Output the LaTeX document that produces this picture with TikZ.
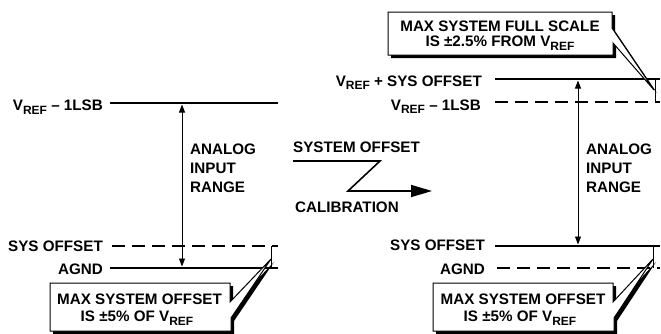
\documentclass[tikz,border=0pt]{standalone}
\usepackage{fontspec}
\setmainfont{Liberation Sans}
\usetikzlibrary{arrows.meta}
\newcommand{\vrefsub}{V\raisebox{-3.5pt}{\fontsize{12}{12}\selectfont REF}}
\begin{document}
\begin{tikzpicture}[x=1pt,y=-1pt,
  lbl/.style={inner sep=0pt, font=\fontsize{15.2}{18}\selectfont\bfseries},
  level/.style={line width=2.4pt},
  dlevel/.style={line width=2.4pt, dash pattern=on 13pt off 7pt},
  tickline/.style={line width=0.9pt},
  span/.style={line width=0.9pt, {Triangle[length=8pt,width=6pt]}-{Triangle[length=8pt,width=6pt]}},
  zline/.style={line width=1.6pt, line join=miter, -{Triangle[length=21pt,width=12pt]}},
  callout/.style={fill=white, draw=black, line width=1pt, line join=miter},
  calloutshadow/.style={fill=black}]
\useasboundingbox (0,0) rectangle (661,333);

% ---------- left panel ----------
\coordinate (LrefA) at (110,103);  \coordinate (LrefB) at (278,103);
\coordinate (LsysA) at (112,246);  \coordinate (LsysB) at (278,246);
\coordinate (LgndA) at (110,268);  \coordinate (LgndB) at (278,268);
\draw[level] (LrefA) -- (LrefB);
\draw[dlevel] (LsysA) -- (LsysB);
\draw[level] (LgndA) -- (LgndB);
\coordinate (LtickT) at (271,246); \coordinate (LtickB) at (271,268);
\draw[tickline] (LtickT) -- (LtickB);
\coordinate (LspanT) at (182,104.5); \coordinate (LspanB) at (182,266.5);
\draw[span] (LspanT) -- (LspanB);

\node[lbl, anchor=base east] (lref) at (103,110.5) {\vrefsub{} – 1LSB};
\node[lbl, anchor=base east] (lsys) at (103,251) {SYS OFFSET};
\node[lbl, anchor=base east] (lgnd) at (103,274) {AGND};
\node[lbl, anchor=base west] (la1) at (190,154) {ANALOG};
\node[lbl, anchor=base west] (la2) at (190,173.3) {INPUT};
\node[lbl, anchor=base west] (la3) at (190,192.5) {RANGE};

% left callout
\fill[calloutshadow, shift={(3,3)}] (50,283) -- (230,283) -- (230,302) -- (271,259) -- (231,318) -- (231,331) -- (50,331) -- cycle;
\draw[callout] (50,283) -- (230,283) -- (230,302) -- (271,259) -- (231,318) -- (231,331) -- (50,331) -- cycle;
\node[lbl, anchor=base] (lc1) at (139.5,304) {MAX SYSTEM OFFSET};
\node[lbl, anchor=base] (lc2) at (137,321.7) {IS ±5\% OF \vrefsub};

% ---------- middle ----------
\coordinate (zs) at (293,161); \coordinate (z1) at (380,161);
\coordinate (z2) at (348,191); \coordinate (ze) at (432,191);
\draw[zline] (zs) -- (z1) -- (z2) -- (ze);
\node[lbl, anchor=base west] (soc) at (293,152.7) {SYSTEM OFFSET};
\node[lbl, anchor=base west] (cal) at (295,212.7) {CALIBRATION};

% ---------- right panel ----------
\coordinate (RfsA) at (495,79);   \coordinate (RfsB) at (660,79);
\coordinate (RrefA) at (495,102); \coordinate (RrefB) at (660,102);
\coordinate (RsysA) at (495,246); \coordinate (RsysB) at (660,246);
\coordinate (RgndA) at (497,268); \coordinate (RgndB) at (660,268);
\draw[level] (RfsA) -- (RfsB);
\draw[dlevel] (RrefA) -- (RrefB);
\draw[level] (RsysA) -- (RsysB);
\draw[dlevel] (RgndA) -- (RgndB);
\coordinate (RtickT) at (655,79);  \coordinate (RtickB) at (655,102);
\draw[tickline] (RtickT) -- (RtickB);
\coordinate (Rtick2T) at (653,246); \coordinate (Rtick2B) at (653,268);
\draw[tickline] (Rtick2T) -- (Rtick2B);
\coordinate (RspanT) at (578,80.5); \coordinate (RspanB) at (578,244.5);
\draw[span] (RspanT) -- (RspanB);

\node[lbl, anchor=base east] (rfs) at (482,86) {\vrefsub{} + SYS OFFSET};
\node[lbl, anchor=base east] (rref) at (481,110) {\vrefsub{} – 1LSB};
\node[lbl, anchor=base east] (rsys) at (485,250.7) {SYS OFFSET};
\node[lbl, anchor=base east] (rgnd) at (485,274) {AGND};
\node[lbl, anchor=base west] (ra1) at (586,154) {ANALOG};
\node[lbl, anchor=base west] (ra2) at (586,173.3) {INPUT};
\node[lbl, anchor=base west] (ra3) at (586,192.5) {RANGE};

% top callout
\fill[calloutshadow, shift={(3,3)}] (388,12) -- (612,12) -- (612,28) -- (654,90) -- (613,43) -- (613,55) -- (388,55) -- cycle;
\draw[callout] (388,12) -- (612,12) -- (612,28) -- (654,90) -- (613,43) -- (613,55) -- (388,55) -- cycle;
\node[lbl, anchor=base] (tc1) at (500,31) {MAX SYSTEM FULL SCALE};
\node[lbl, anchor=base] (tc2) at (500,46.7) {IS ±2.5\% FROM \vrefsub};

% bottom right callout
\fill[calloutshadow, shift={(3,3)}] (433,283) -- (613,283) -- (613,302) -- (653,259) -- (614,318) -- (614,331) -- (433,331) -- cycle;
\draw[callout] (433,283) -- (613,283) -- (613,302) -- (653,259) -- (614,318) -- (614,331) -- (433,331) -- cycle;
\node[lbl, anchor=base] (rc1) at (523,304) {MAX SYSTEM OFFSET};
\node[lbl, anchor=base] (rc2) at (520,321.7) {IS ±5\% OF \vrefsub};
\end{tikzpicture}
\end{document}
